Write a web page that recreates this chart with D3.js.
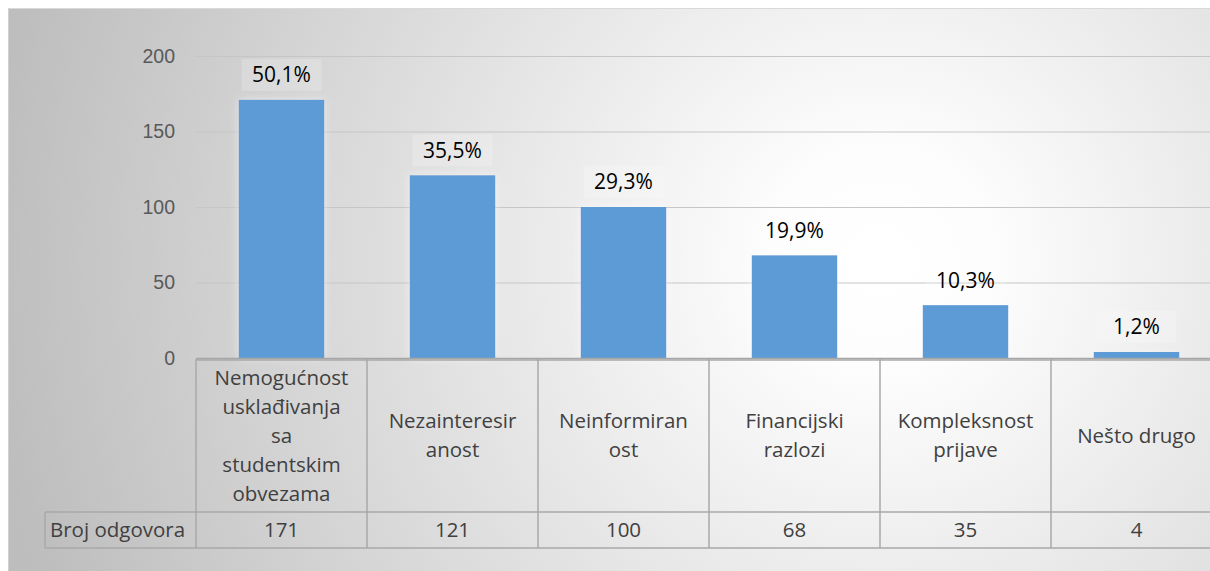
<!DOCTYPE html>
<html>
<head>
<meta charset="utf-8">
<script src="https://cdn.jsdelivr.net/npm/d3@7"></script>
<style>
  html, body { margin: 0; padding: 0; background: #fff; }
  svg { display: block; font-family: "Open Sans", "Noto Sans", sans-serif; }
</style>
</head>
<body>
<svg id="chart" width="1210" height="571"></svg>
<script>
// data
const categories = [
  "Nemogućnost\nusklađivanja\nsa\nstudentskim\nobvezama",
  "Nezainteresir\nanost",
  "Neinformiran\nost",
  "Financijski\nrazlozi",
  "Kompleksnost\nprijave",
  "Nešto drugo"
];
const counts = [171, 121, 100, 68, 35, 4];
const percentLabels = ["50,1%", "35,5%", "29,3%", "19,9%", "10,3%", "1,2%"];
const yTicks = [0, 50, 100, 150, 200];
const rowName = "Broj odgovora";

const W = 1210, H = 571;
const plotLeft = 196;
const colW = 171;
const plotTop = 56, plotBottom = 358;
const tableTop = 359, rowSplit = 512, tableBottom = 548;
const tableLeft = 45;

const svg = d3.select('#chart');

// background gradient, like the Excel chart area
const defs = svg.append('defs');
const grad = defs.append('radialGradient')
    .attr('id', 'bg')
    .attr('gradientUnits', 'userSpaceOnUse')
    .attr('cx', 880).attr('cy', 260).attr('r', 900);
grad.append('stop').attr('offset', '0%').attr('stop-color', '#ffffff');
grad.append('stop').attr('offset', '12%').attr('stop-color', '#fdfdfd');
grad.append('stop').attr('offset', '100%').attr('stop-color', '#bdbdbd');

const shadow = defs.append('filter').attr('id', 'glow')
    .attr('x', '-20%').attr('y', '-20%').attr('width', '140%').attr('height', '140%');
shadow.append('feGaussianBlur').attr('in', 'SourceAlpha').attr('stdDeviation', 4).attr('result', 'b');
shadow.append('feFlood').attr('flood-color', '#ffffff').attr('flood-opacity', 0.5);
shadow.append('feComposite').attr('in2', 'b').attr('operator', 'in').attr('result', 's');
const mrg = shadow.append('feMerge');
mrg.append('feMergeNode').attr('in', 's');
mrg.append('feMergeNode').attr('in', 'SourceGraphic');

svg.append('rect')
    .attr('x', 8).attr('y', 8)
    .attr('width', W).attr('height', H)
    .attr('fill', 'url(#bg)');
svg.append('line')
    .attr('x1', 8).attr('x2', W).attr('y1', 8.5).attr('y2', 8.5)
    .attr('stroke', '#d9d9d9');
svg.append('line')
    .attr('x1', 8.5).attr('x2', 8.5).attr('y1', 8).attr('y2', H)
    .attr('stroke', '#d0d0d0');

const xBand = d3.scaleBand()
    .domain(d3.range(categories.length))
    .range([plotLeft, plotLeft + colW * categories.length])
    .paddingInner(0.5)
    .paddingOuter(0.25);

const xCol = d3.scaleBand()
    .domain(d3.range(categories.length))
    .range([plotLeft, plotLeft + colW * categories.length]);

const yScale = d3.scaleLinear()
    .domain([0, 200])
    .range([plotBottom, plotTop]);

// gridlines
svg.append('g')
    .selectAll('line')
    .data(yTicks.filter(d => d > 0))
    .join('line')
    .attr('x1', plotLeft).attr('x2', W)
    .attr('y1', d => yScale(d) + 0.5).attr('y2', d => yScale(d) + 0.5)
    .attr('stroke', '#c6c6c6')
    .attr('stroke-width', 1.2);

// y axis labels
const yAxis = svg.append('g')
    .attr('transform', `translate(${plotLeft - 21}, 0)`)
    .call(d3.axisLeft(yScale).tickValues(yTicks).tickSize(0).tickPadding(0));
yAxis.select('.domain').remove();
yAxis.selectAll('text')
    .attr('fill', '#595959')
    .style('font-size', '19.5px');

// bars
svg.append('g')
    .selectAll('rect')
    .data(counts)
    .join('rect')
    .attr('x', (d, i) => xBand(i))
    .attr('y', d => yScale(d))
    .attr('width', xBand.bandwidth())
    .attr('height', d => plotBottom - yScale(d))
    .attr('fill', '#5b9bd5')
    .attr('filter', 'url(#glow)');

// data labels
const lab = svg.append('g')
    .selectAll('g')
    .data(counts)
    .join('g')
    .attr('transform', (d, i) => `translate(${xBand(i) + xBand.bandwidth() / 2}, ${yScale(d) - 25})`);
lab.append('rect')
    .attr('x', -40).attr('y', -16).attr('width', 80).attr('height', 32)
    .attr('fill', '#ffffff').attr('opacity', 0.2);
lab.append('text')
    .attr('text-anchor', 'middle')
    .attr('dy', '0.35em')
    .attr('fill', '#000')
    .style('font-size', '21px')
    .text((d, i) => percentLabels[i]);

// x axis line
svg.append('line')
    .attr('x1', plotLeft).attr('x2', W)
    .attr('y1', plotBottom + 0.5).attr('y2', plotBottom + 0.5)
    .attr('stroke', '#a6a6a6').attr('stroke-width', 1.5);

// data table
const tbl = svg.append('g').attr('stroke', '#a9a9a9').attr('stroke-width', 1.5).attr('fill', 'none');
const colEdges = d3.range(categories.length + 1).map(i => plotLeft + i * colW);
tbl.selectAll('line.v')
    .data(colEdges)
    .join('line')
    .attr('class', 'v')
    .attr('x1', d => d).attr('x2', d => d)
    .attr('y1', tableTop).attr('y2', tableBottom);
tbl.append('line').attr('x1', tableLeft).attr('x2', tableLeft).attr('y1', rowSplit).attr('y2', tableBottom);
tbl.append('line').attr('x1', plotLeft).attr('x2', W).attr('y1', tableTop + 1).attr('y2', tableTop + 1);
tbl.append('line').attr('x1', tableLeft).attr('x2', W).attr('y1', rowSplit).attr('y2', rowSplit);
tbl.append('line').attr('x1', tableLeft).attr('x2', W).attr('y1', tableBottom).attr('y2', tableBottom);

const lineH = 29;
const headMid = (tableTop + rowSplit) / 2;
const heads = svg.append('g')
    .selectAll('text')
    .data(categories)
    .join('text')
    .attr('text-anchor', 'middle')
    .attr('fill', '#404040')
    .style('font-size', '20.5px');
heads.each(function (d, i) {
    const lines = d.split('\n');
    const start = headMid - (lines.length - 1) * lineH / 2;
    d3.select(this).selectAll('tspan')
        .data(lines)
        .join('tspan')
        .attr('x', xCol(i) + colW / 2)
        .attr('y', (l, j) => start + j * lineH)
        .attr('dy', '0.35em')
        .text(l => l);
});

const rowMid = (rowSplit + tableBottom) / 2;
svg.append('text')
    .attr('x', tableLeft + 5).attr('y', rowMid).attr('dy', '0.35em')
    .attr('fill', '#404040')
    .style('font-size', '20.5px')
    .text(rowName);
svg.append('g')
    .selectAll('text')
    .data(counts)
    .join('text')
    .attr('x', (d, i) => xCol(i) + colW / 2)
    .attr('y', rowMid).attr('dy', '0.35em')
    .attr('text-anchor', 'middle')
    .attr('fill', '#404040')
    .style('font-size', '20.5px')
    .text(d => d);
</script>
</body>
</html>
